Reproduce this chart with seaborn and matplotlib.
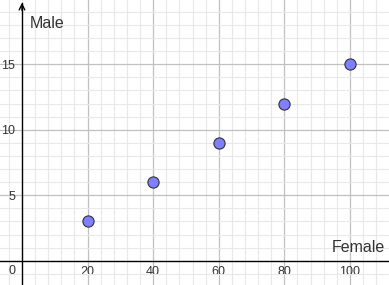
import matplotlib
matplotlib.use("Agg")
import matplotlib.pyplot as plt
import seaborn as sns
import pandas as pd
import numpy as np

female = [20, 40, 60, 80, 100]
male = [3, 6, 9, 12, 15]
x_ticks = [20, 40, 60, 80, 100]
y_ticks = [5, 10, 15]

df = pd.DataFrame({"Female": female, "Male": male})

sns.set_style("white")
plt.rcParams['font.family'] = ['Liberation Sans', 'DejaVu Sans']

fig = plt.figure(figsize=(3.89, 2.85), dpi=100)
ax = fig.add_axes([0, 0, 1, 1])

xmin, xmax = -6.7, 111.9
ymin, ymax = -1.85, 19.9
ax.set_xlim(xmin, xmax)
ax.set_ylim(ymin, ymax)

# grid
ax.set_xticks(np.arange(-4, 112, 4), minor=True)
ax.set_yticks(np.arange(-1, 20, 1), minor=True)
ax.set_xticks(x_ticks)
ax.set_yticks(y_ticks)
ax.grid(which='minor', color='#e8e8e8', linewidth=0.8, zorder=0)
ax.grid(which='major', color='#c0c0c0', linewidth=0.9, zorder=0)
# major gridlines at 0 region lines
for v in [0]:
    pass
ax.set_axisbelow(True)

for s in ['top', 'right']:
    ax.spines[s].set_visible(False)
ax.spines['left'].set_position(('data', 0))
ax.spines['bottom'].set_position(('data', 0))
ax.spines['left'].set_color('black')
ax.spines['bottom'].set_color('black')
ax.spines['left'].set_linewidth(1.0)
ax.spines['bottom'].set_linewidth(1.0)
ax.spines['left'].set_bounds(ymin, ymax - 0.2)

ax.tick_params(which='both', length=0)
ax.tick_params(axis='x', pad=4, labelsize=9, labelcolor='#333333')
ax.tick_params(axis='y', pad=5, labelsize=9, labelcolor='#333333')

# arrow on y axis
ax.annotate('', xy=(0, ymax), xytext=(0, ymax - 1.0),
            arrowprops=dict(arrowstyle='->', color='black', lw=1.0, mutation_scale=10),
            annotation_clip=False)

sns.scatterplot(data=df, x="Female", y="Male", ax=ax, s=65, color='#7f7fff',
                edgecolor='#333333', linewidth=0.8, zorder=5, clip_on=False)
ax.set_xlabel('')
ax.set_ylabel('')

ax.text(-3.0, -0.75, '0', ha='center', va='center', fontsize=9, color='#333333')
ax.text(2.4, 17.8, 'Male', ha='left', va='baseline', fontsize=11.5, color='#333333')
ax.text(110.8, 0.67, 'Female', ha='right', va='baseline', fontsize=11.5, color='#333333')

fig.savefig('out.png', dpi=100)
